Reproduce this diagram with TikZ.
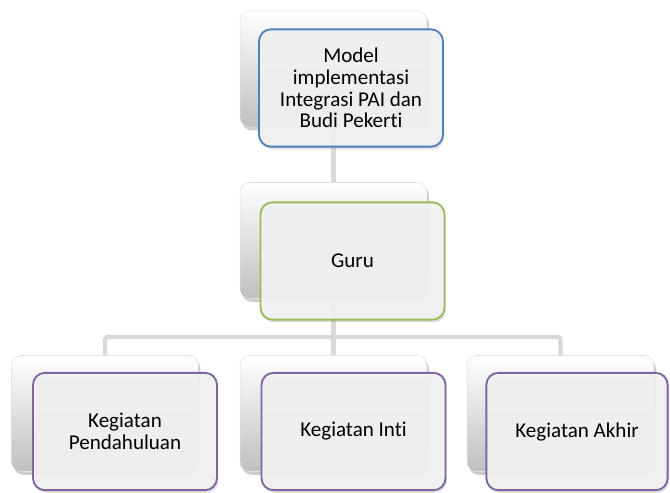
\documentclass[tikz,border=0pt]{standalone}
\usepackage{fontspec}
\setmainfont[Ligatures=NoCommon]{Carlito}
\usetikzlibrary{shadows}
\definecolor{cblue}{HTML}{4F81BD}
\definecolor{cgreen}{HTML}{9BBB59}
\definecolor{cpurple}{HTML}{8064A2}
\definecolor{cline}{HTML}{D9D9D9}
\definecolor{cfill}{HTML}{F2F2F2}
\tikzset{
  backbox/.style={rectangle, rounded corners=7pt, minimum width=140pt, minimum height=87pt,
    top color=white, bottom color=black!25, draw=black!12, line width=0.4pt,
    drop shadow={shadow xshift=1.5pt, shadow yshift=-2.5pt, opacity=0.4}},
  frontbox/.style={rectangle, rounded corners=9pt, minimum width=138pt, minimum height=88pt,
    fill=cfill, fill opacity=0.93, text opacity=1, line width=1.4pt, align=center,
    font=\fontsize{15.8}{16.3}\selectfont,
    drop shadow={shadow xshift=1pt, shadow yshift=-2pt, opacity=0.25}},
  conn/.style={draw=cline, line width=3.2pt, rounded corners=2pt}
}
\begin{document}
\begin{tikzpicture}[x=0.75pt,y=-0.75pt]
\useasboundingbox (0,0) rectangle (670,492);
% back boxes (for anchors)
\node[backbox] (b1) at (333.5,69) {};
\node[backbox] (b2) at (333.5,240.5) {};
\node[backbox] (b3) at (105,413.5) {};
\node[backbox] (b4) at (333.5,413.5) {};
\node[backbox] (b5) at (560.5,413.5) {};
% connectors
\coordinate (bus) at (333.5,337);
\draw[conn] (b1.south) -- (b2.north);
\draw[conn] (b2.south) -- (bus);
\draw[conn] (bus) -| (b3.north);
\draw[conn] (bus) -- (b4.north);
\draw[conn] (bus) -| (b5.north);
% front boxes
\node[frontbox, draw=cblue] (f1) at (351,88) {Model\\implementasi\\Integrasi PAI dan\\Budi Pekerti};
\node[frontbox, draw=cgreen] (f2) at (352.5,261) {Guru};
\node[frontbox, draw=cpurple] (f3) at (125,431.5) {Kegiatan\\Pendahuluan};
\node[frontbox, draw=cpurple] (f4) at (353.5,431.5) {Kegiatan Inti};
\node[frontbox, draw=cpurple, minimum width=136pt] (f5) at (577,431.5) {Kegiatan Akhir};
\end{tikzpicture}
\end{document}
